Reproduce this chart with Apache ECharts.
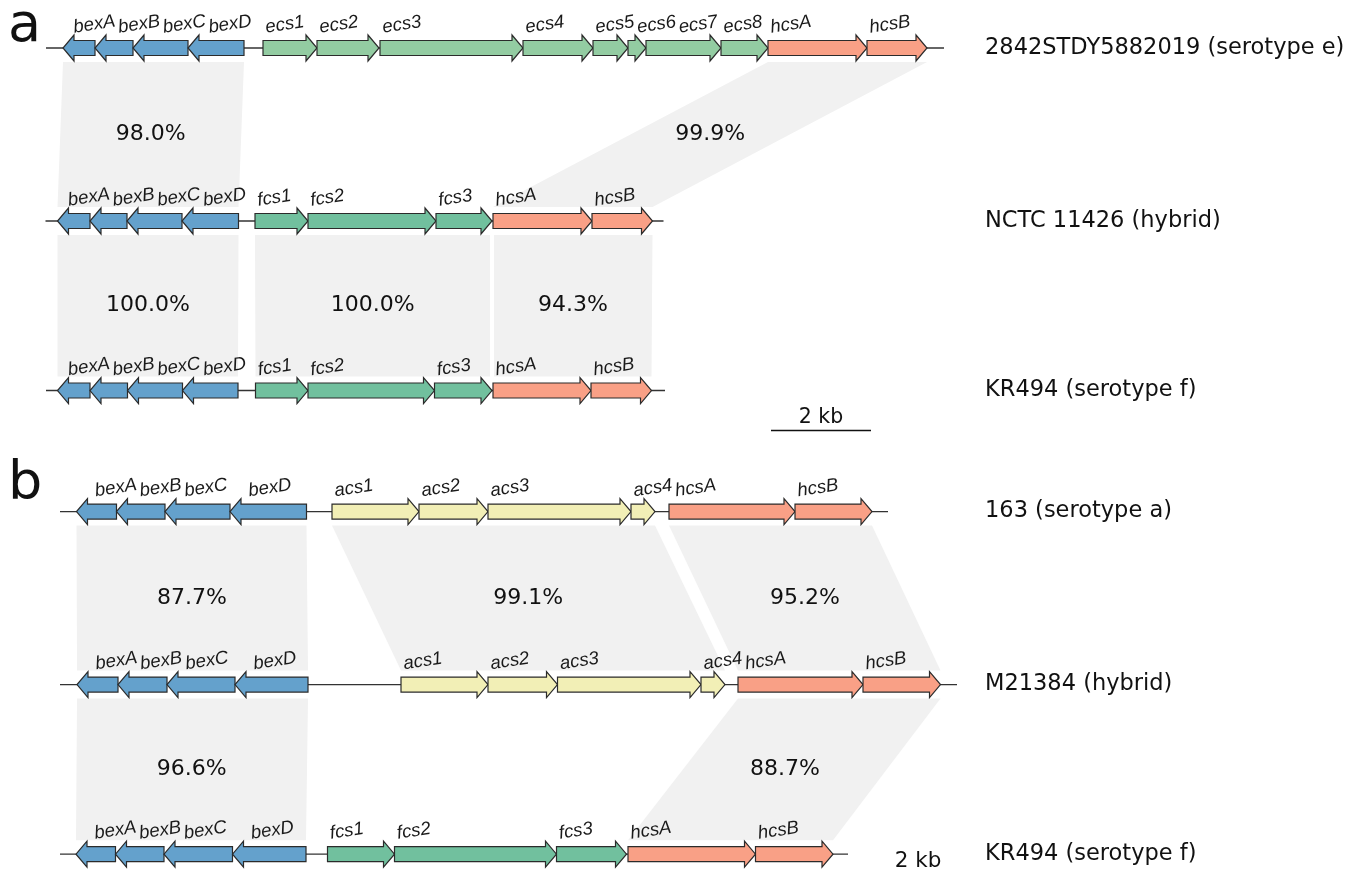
<!DOCTYPE html>
<html><head><meta charset="utf-8">
<script src="https://cdn.jsdelivr.net/npm/echarts@6/dist/echarts.min.js"></script>
<style>html,body{margin:0;padding:0;background:#fff}#c{width:1364px;height:878px}</style>
</head><body><div id="c"></div>
<script>
// ---- tracks ----
const trackNames = ['2842STDY5882019 (serotype e)','NCTC 11426 (hybrid)','KR494 (serotype f)','163 (serotype a)','M21384 (hybrid)','KR494 (serotype f)'];
const trackPos   = [0, 1, 1.98, 2.68, 3.68, 4.66];
const trackStart = [0.02, 0.01, 0.02, 0.30, 0.30, 0.30];   // kb
const trackEnd   = [17.98, 12.37, 12.40, 16.86, 18.24, 16.06];

// ---- genes (kb) ----
const geneNames  = ['bexA','bexB','bexC','bexD','ecs1','ecs2','ecs3','ecs4','ecs5','ecs6','ecs7','ecs8','hcsA','hcsB',
                    'bexA','bexB','bexC','bexD','fcs1','fcs2','fcs3','hcsA','hcsB',
                    'bexA','bexB','bexC','bexD','fcs1','fcs2','fcs3','hcsA','hcsB',
                    'bexA','bexB','bexC','bexD','acs1','acs2','acs3','acs4','hcsA','hcsB',
                    'bexA','bexB','bexC','bexD','acs1','acs2','acs3','acs4','hcsA','hcsB',
                    'bexA','bexB','bexC','bexD','fcs1','fcs2','fcs3','hcsA','hcsB'];
const geneTrack  = [0,0,0,0,0,0,0,0,0,0,0,0,0,0,
                    1,1,1,1,1,1,1,1,1,
                    2,2,2,2,2,2,2,2,2,
                    3,3,3,3,3,3,3,3,3,3,
                    4,4,4,4,4,4,4,4,4,4,
                    5,5,5,5,5,5,5,5,5];
const geneStart  = [0.36,1.00,1.76,2.86,4.36,5.44,6.70,9.56,10.96,11.66,12.02,13.52,14.46,16.44,
                    0.25,0.90,1.64,2.74,4.20,5.26,7.82,8.96,10.94,
                    0.25,0.90,1.65,2.75,4.21,5.26,7.79,8.96,10.92,
                    0.63,1.43,2.40,3.70,5.74,7.48,8.86,11.72,12.48,15.00,
                    0.64,1.46,2.44,3.80,7.12,8.86,10.25,13.12,13.86,16.36,
                    0.62,1.41,2.38,3.75,5.65,6.99,10.23,11.66,14.21];
const geneEnd    = [1.00,1.76,2.86,3.98,5.44,6.68,9.56,10.96,11.66,12.02,13.52,14.46,16.44,17.64,
                    0.90,1.64,2.74,3.87,5.26,7.82,8.94,10.94,12.15,
                    0.90,1.65,2.75,3.86,5.26,7.79,8.94,10.92,12.13,
                    1.43,2.40,3.70,5.23,7.48,8.86,11.72,12.20,15.00,16.54,
                    1.46,2.44,3.80,5.26,8.86,10.25,13.12,13.60,16.36,17.91,
                    1.41,2.38,3.75,5.22,6.99,10.23,11.63,14.21,15.76];
const geneStrand = [-1,-1,-1,-1,1,1,1,1,1,1,1,1,1,1,
                    -1,-1,-1,-1,1,1,1,1,1,
                    -1,-1,-1,-1,1,1,1,1,1,
                    -1,-1,-1,-1,1,1,1,1,1,1,
                    -1,-1,-1,-1,1,1,1,1,1,1,
                    -1,-1,-1,-1,1,1,1,1,1];

// ---- similarity bands (kb) ----
const bandUpper      = [0, 0, 1, 1, 1, 3, 3, 3, 4, 4];
const bandLower      = [1, 1, 2, 2, 2, 4, 4, 4, 5, 5];
const bandUpperStart = [0.36, 14.46, 0.25, 4.20, 8.98, 0.63, 5.74, 12.48, 0.64, 13.86];
const bandUpperEnd   = [3.98, 17.64, 3.87, 8.90, 12.15, 5.23, 12.20, 16.54, 5.26, 17.91];
const bandLowerStart = [0.25, 8.96, 0.25, 4.21, 8.98, 0.64, 7.12, 13.86, 0.62, 11.66];
const bandLowerEnd   = [3.87, 12.15, 3.86, 8.90, 12.13, 5.26, 13.60, 17.91, 5.22, 15.76];
const bandIdentity   = ['98.0%','99.9%','100.0%','100.0%','94.3%','87.7%','99.1%','95.2%','96.6%','88.7%'];

// ---- scale bars ----
const scaleStart  = [14.52, 16.46];
const scaleLength = [2, 2];
const scaleTrack  = [2, 5];
const scaleDrawBar= [true, false];
const scaleText   = ['2 kb', '2 kb'];

// ---- styles ----
const familyColor = {bex:'#64a1cc', ecs:'#93cca2', fcs:'#71c09e', acs:'#f2efb6', hcs:'#f9a086'};
const OUTLINE = '#2b2b2b';
const ROT = 0.15;
const GENE_FONT_SIZE = 18.5;
const GENE_FONT = 'italic ' + GENE_FONT_SIZE + 'px "Liberation Sans", Arial, sans-serif';
const SANS = '"DejaVu Sans", sans-serif';
const mctx = document.createElement('canvas').getContext('2d');
function textW(s){ mctx.font = GENE_FONT; return mctx.measureText(s).width; }

function labelX(i, api){
  let prevRight = -Infinity;
  for (let j = 0; j < geneNames.length; j++){
    if (geneTrack[j] !== geneTrack[i]) continue;
    const left = api.coord([geneStart[j], trackPos[geneTrack[j]]])[0];
    const pad = geneStrand[j] > 0 ? 4 : (geneTrack[j] >= 3 ? 20 : 12);
    const x = Math.max(left + pad, prevRight + 3);
    prevRight = x + textW(geneNames[j]) * Math.cos(ROT);
    if (j === i) return x;
  }
  return 0;
}

const geneData = geneNames.map((n,i)=>[geneStart[i], geneEnd[i], trackPos[geneTrack[i]], geneStrand[i]]);
const lineData = trackNames.map((n,i)=>[trackStart[i], trackEnd[i], trackPos[i]]);
const bandData = bandIdentity.map((p,i)=>[bandUpperStart[i], bandUpperEnd[i], bandLowerStart[i], bandLowerEnd[i], trackPos[bandUpper[i]], trackPos[bandLower[i]]]);
const nameData = trackNames.map((n,i)=>[0, trackPos[i]]);
const scaleData = scaleStart.map((s,i)=>[s, s+scaleLength[i], trackPos[scaleTrack[i]]]);

const chart = echarts.init(document.getElementById('c'), null, {renderer:'canvas'});
chart.setOption({
  animation:false,
  backgroundColor:'#ffffff',
  grid:{left:0,right:0,top:0,bottom:0},
  xAxis:{type:'value', min:-0.9, max:26.38, show:false},
  yAxis:{type:'value', inverse:true, min:-0.2775, max:4.798, show:false},
  graphic:[
    {type:'text', left:8, top:0, style:{text:'a', font:'54px ' + SANS, fill:'#111'}},
    {type:'text', left:8, top:458, style:{text:'b', font:'54px ' + SANS, fill:'#111'}}
  ],
  series:[
    { // similarity bands
      type:'custom', clip:false, data:bandData, encode:{x:[0,1],y:4},
      renderItem:function(params, api){
        const i = params.dataIndex;
        const uy = api.coord([0, api.value(4)])[1] + 14;
        const ly = api.coord([0, api.value(5)])[1] - 14;
        const us = api.coord([api.value(0),0])[0], ue = api.coord([api.value(1),0])[0];
        const ls = api.coord([api.value(2),0])[0], le = api.coord([api.value(3),0])[0];
        const cx = (us+ue+ls+le)/4, cy = (uy+ly)/2;
        return {type:'group', children:[
          {type:'polygon', shape:{points:[[us,uy],[ue,uy],[le,ly],[ls,ly]]}, style:{fill:'#f1f1f1', stroke:null}},
          {type:'text', x:cx, y:cy, style:{text:bandIdentity[i], font:'22px ' + SANS, fill:'#111', align:'center', verticalAlign:'middle'}}
        ]};
      }
    },
    { // backbone lines
      type:'custom', clip:false, data:lineData, encode:{x:[0,1],y:2},
      renderItem:function(params, api){
        const p0 = api.coord([api.value(0), api.value(2)]);
        const p1 = api.coord([api.value(1), api.value(2)]);
        return {type:'line', shape:{x1:p0[0],y1:p0[1],x2:p1[0],y2:p1[1]}, style:{stroke:'#333', lineWidth:1.3}};
      }
    },
    { // genes
      type:'custom', clip:false, data:geneData, encode:{x:[0,1],y:2},
      renderItem:function(params, api){
        const i = params.dataIndex;
        const p0 = api.coord([api.value(0), api.value(2)]);
        const p1 = api.coord([api.value(1), api.value(2)]);
        const x0 = p0[0], x1 = p1[0], y = p0[1];
        const dir = api.value(3);
        const hl = Math.min(11, (x1-x0)*0.7);
        const bh = 7.5, hh = 13;
        let pts;
        if (dir > 0) pts = [[x0,y-bh],[x1-hl,y-bh],[x1-hl,y-hh],[x1,y],[x1-hl,y+hh],[x1-hl,y+bh],[x0,y+bh]];
        else pts = [[x1,y-bh],[x0+hl,y-bh],[x0+hl,y-hh],[x0,y],[x0+hl,y+hh],[x0+hl,y+bh],[x1,y+bh]];
        const name = geneNames[i];
        const col = familyColor[name.slice(0,3)];
        const lx = labelX(i, api);
        return {type:'group', children:[
          {type:'polygon', shape:{points:pts}, style:{fill:col, stroke:OUTLINE, lineWidth:1.2, lineJoin:'miter'}},
          {type:'text', x:lx, y:y-11, rotation:ROT, style:{text:name, font:GENE_FONT, fill:'#1a1a1a', align:'left', verticalAlign:'bottom'}}
        ]};
      }
    },
    { // track names
      type:'custom', clip:false, data:nameData, encode:{y:1},
      renderItem:function(params, api){
        const y = api.coord([0, api.value(1)])[1];
        return {type:'text', x:985, y:y, style:{text:trackNames[params.dataIndex], font:'22.5px ' + SANS, fill:'#111', align:'left', verticalAlign:'middle'}};
      }
    },
    { // scale bars
      type:'custom', clip:false, data:scaleData, encode:{x:[0,1],y:2},
      renderItem:function(params, api){
        const i = params.dataIndex;
        const p0 = api.coord([api.value(0), api.value(2)]);
        const p1 = api.coord([api.value(1), api.value(2)]);
        const cx = (p0[0]+p1[0])/2;
        const children = [];
        if (scaleDrawBar[i]) {
          const by = p0[1] + 40;
          children.push({type:'line', shape:{x1:p0[0],y1:by,x2:p1[0],y2:by}, style:{stroke:'#111', lineWidth:1.6}});
          children.push({type:'text', x:cx, y:by-13, style:{text:scaleText[i], font:'20.5px ' + SANS, fill:'#111', align:'center', verticalAlign:'middle'}});
        } else {
          children.push({type:'text', x:cx, y:p0[1]+7, style:{text:scaleText[i], font:'21.5px ' + SANS, fill:'#111', align:'center', verticalAlign:'middle'}});
        }
        return {type:'group', children:children};
      }
    }
  ]
});
</script>
</body></html>
